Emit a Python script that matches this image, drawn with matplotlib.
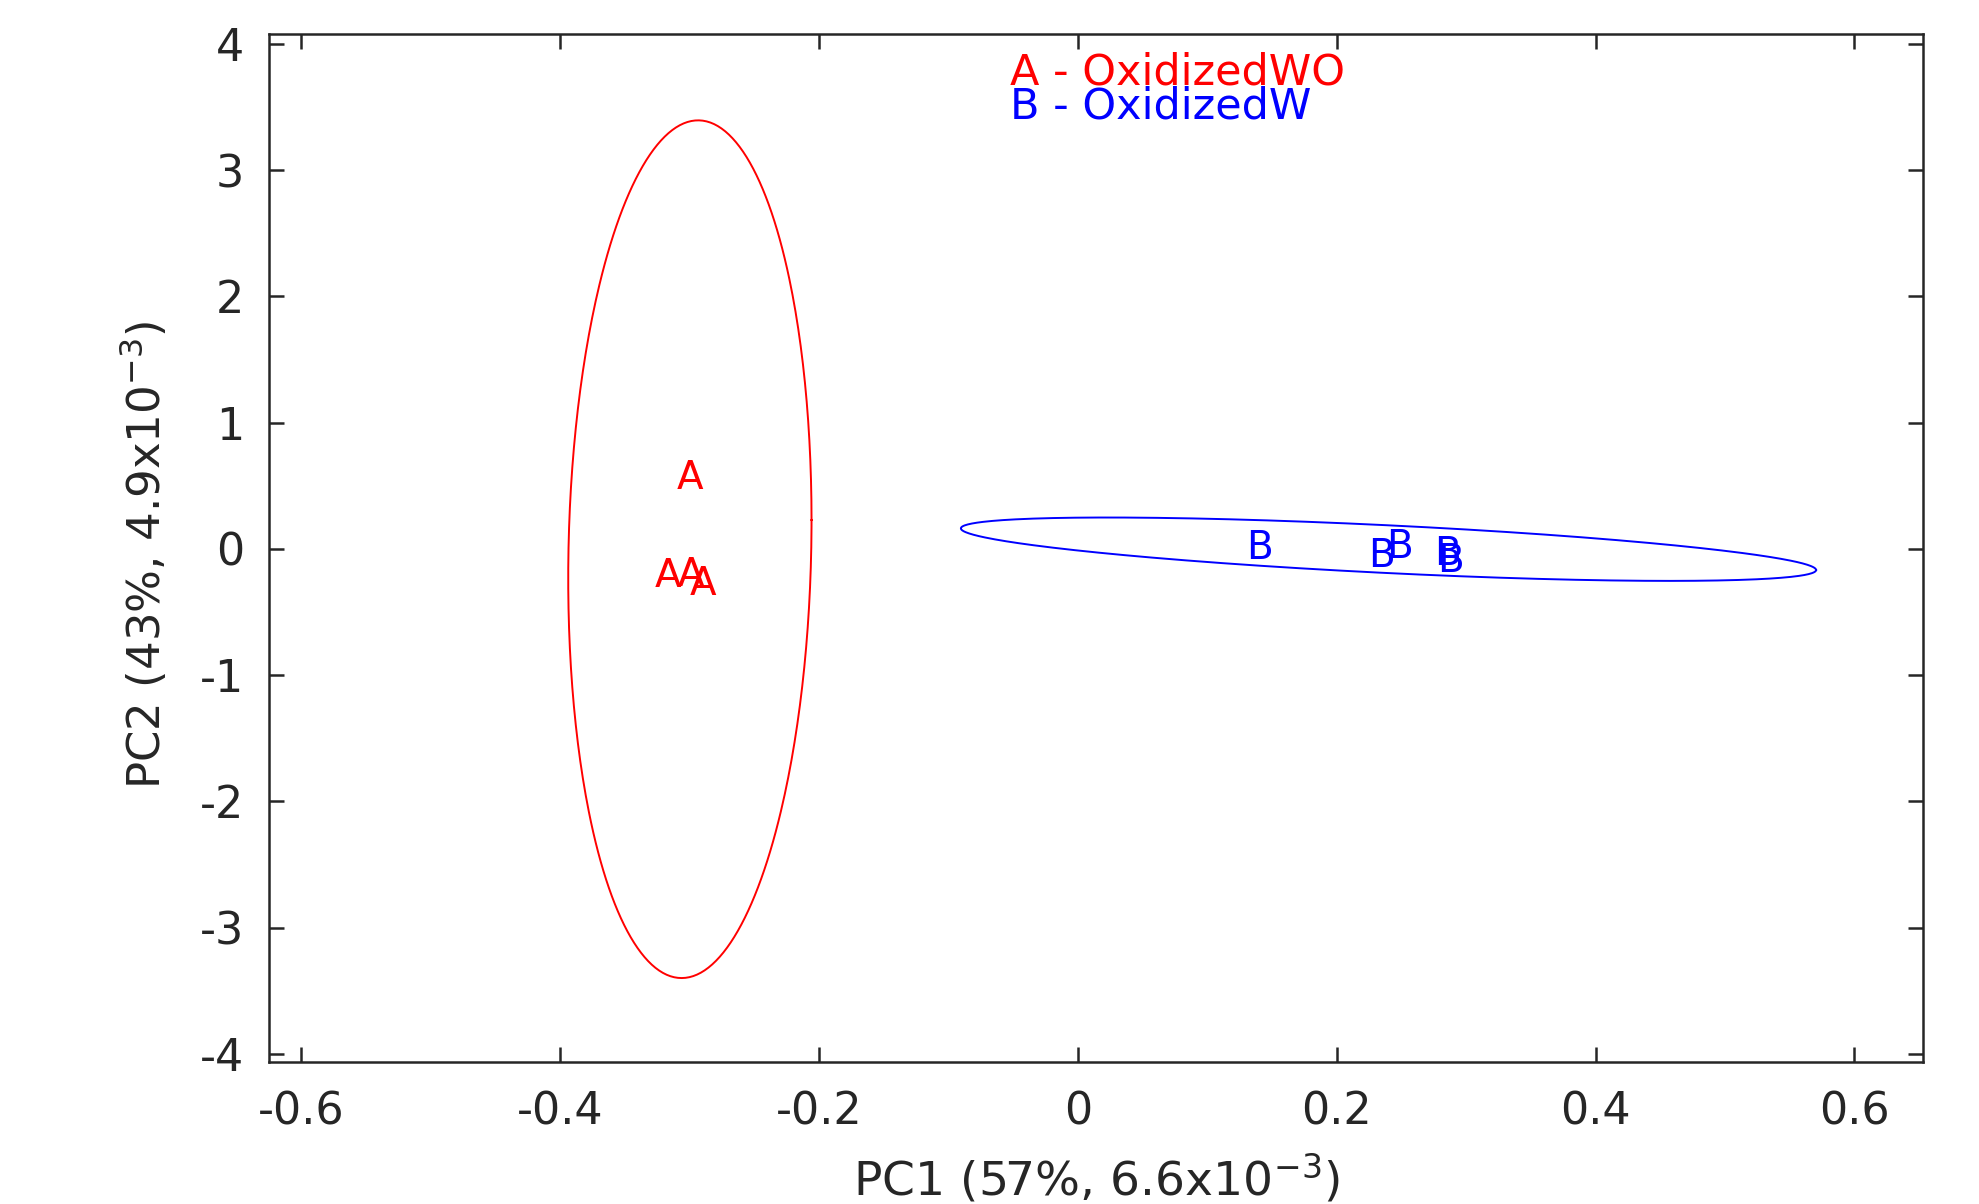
import numpy as np
import matplotlib
matplotlib.use("Agg")
import matplotlib.pyplot as plt

plt.rcParams['font.family'] = ['DejaVu Sans']
plt.rcParams['axes.unicode_minus'] = False

# ---- data ----
group_labels = ["A", "B"]
group_names = ["OxidizedWO", "OxidizedW"]
group_colors = ["#ff0000", "#0000ff"]

a_pc1 = [-0.2996, -0.3166, -0.2991, -0.2896]
a_pc2 = [0.594, -0.185, -0.175, -0.248]
b_pc1 = [0.140, 0.2345, 0.2484, 0.2855, 0.2878]
b_pc2 = [0.039, -0.024, 0.047, -0.008, -0.064]

# confidence ellipses: center x, center y, half-extent x, half-extent y, correlation
ell_a = [-0.2998, -0.002, 0.094, 3.397, 0.068]
ell_b = [0.240, -0.002, 0.3304, 0.251, -0.657]

xticks = [-0.6, -0.4, -0.2, 0, 0.2, 0.4, 0.6]
yticks = [-4, -3, -2, -1, 0, 1, 2, 3, 4]
xlabel = r"PC1 (57%, 6.6x10$^{-3}$)"
ylabel = r"PC2 (43%, 4.9x10$^{-3}$)"

W, H = 1979, 1204
fig = plt.figure(figsize=(W / 100, H / 100), dpi=100)
ax = fig.add_axes([269 / W, 1 - 1061.5 / H, (1923 - 269) / W, (1061.5 - 34) / H])

dark = "#262626"

def ellipse_curve(p, n=400):
    cx, cy, hx, hy, rho = p
    t = np.linspace(0, 2 * np.pi, n)
    x = cx + hx * np.cos(t)
    y = cy + hy * (rho * np.cos(t) + np.sqrt(1 - rho ** 2) * np.sin(t))
    return x, y

for p, col in zip([ell_a, ell_b], group_colors):
    ex, ey = ellipse_curve(p)
    ax.plot(ex, ey, color=col, lw=1.4)

for xs, ys, lab, col in zip([a_pc1, b_pc1], [a_pc2, b_pc2], group_labels, group_colors):
    for x, y in zip(xs, ys):
        ax.text(x, y, lab, color=col, fontsize=28, ha="center", va="center_baseline")

# legend-like text
ax.text(0.448, 0.951, f"{group_labels[0]} - {group_names[0]}", color=group_colors[0],
        fontsize=31, transform=ax.transAxes, ha="left", va="baseline")
ax.text(0.448, 0.918, f"{group_labels[1]} - {group_names[1]}", color=group_colors[1],
        fontsize=31, transform=ax.transAxes, ha="left", va="baseline")

ax.set_xlim(-0.625, 0.653)
ax.set_ylim(-4.06, 4.079)
ax.set_xticks(xticks)
ax.set_xticklabels([f"{v:g}" for v in xticks])
ax.set_yticks(yticks)
ax.set_yticklabels([f"{v:g}" for v in yticks])

for s in ax.spines.values():
    s.set_color(dark)
    s.set_linewidth(1.8)

ax.tick_params(axis="both", which="major", direction="in", length=11, width=1.8,
               color=dark, labelcolor=dark, labelsize=32,
               top=True, right=True)
ax.tick_params(axis="x", pad=21)
ax.tick_params(axis="y", pad=18)

ax.set_xlabel(xlabel, fontsize=34, color=dark, labelpad=13)
ax.set_ylabel(ylabel, fontsize=32.5, color=dark)
ax.yaxis.set_label_coords(-0.0599, 0.4926)

fig.savefig("out.png", dpi=100, facecolor="white")
